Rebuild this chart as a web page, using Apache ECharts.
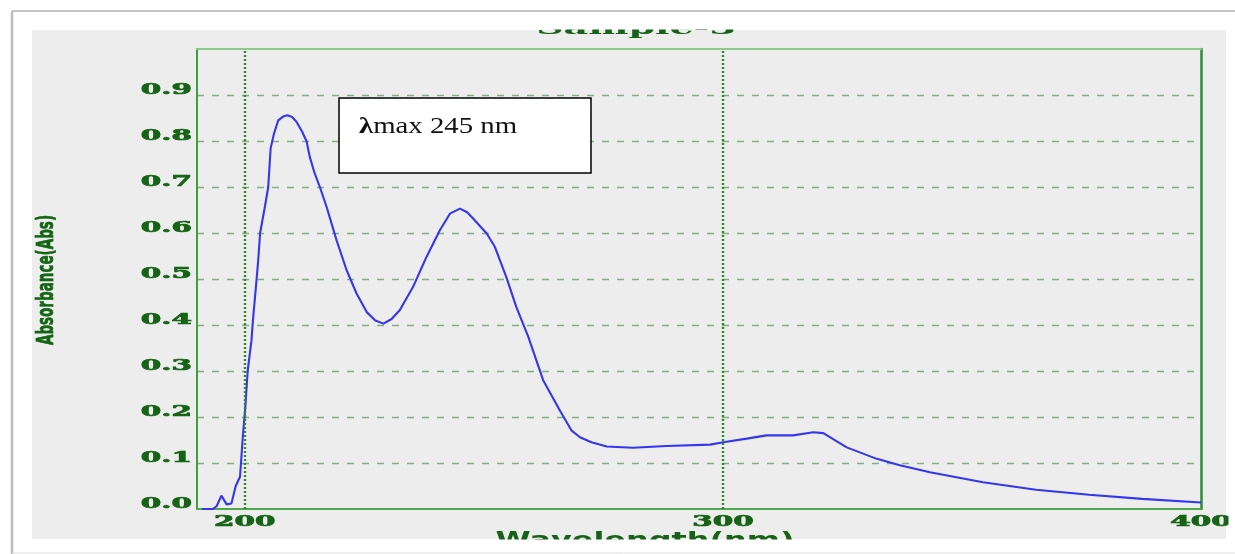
<!DOCTYPE html>
<html>
<head>
<meta charset="utf-8">
<script src="https://cdn.jsdelivr.net/npm/echarts@6/dist/echarts.min.js"></script>
<style>
  html, body { margin: 0; padding: 0; background: #ffffff; }
  #chart { width: 1235px; height: 554px; }
</style>
</head>
<body>
<div id="chart"></div>
<script>
// UV spectrum of Sample-3: wavelength (nm) and absorbance (Abs)
const wavelength = [
  191, 193.3, 194.1, 195.1, 196.2, 197.2, 198.1, 199.0, 199.6, 200.1,
  200.6, 201.4, 201.7, 202.3, 202.8, 203.2, 204.2, 204.9, 205.4, 206.1,
  207.0, 208.0, 208.9, 209.9, 210.8, 212.0, 212.9, 213.6, 214.6, 215.7,
  217.1, 219.2, 221.3, 223.4, 225.5, 227.3, 229.0, 230.7, 232.4, 235.2,
  238.0, 240.8, 242.9, 245.0, 246.5, 247.8, 250.6, 252.3, 254.7, 256.8,
  259.3, 262.4, 265.9, 268.3, 270.1, 272.5, 275.7, 281.2, 288.2, 297.3,
  300.1, 305.0, 309.1, 314.7, 318.9, 321.0, 325.9, 332.2, 337.0, 343.3,
  354.4, 365.5, 376.6, 387.7, 400
];
const absorbance = [
  0.000, 0.000, 0.006, 0.029, 0.010, 0.012, 0.050, 0.070, 0.160, 0.220,
  0.300, 0.367, 0.410, 0.480, 0.540, 0.600, 0.657, 0.700, 0.784, 0.816,
  0.845, 0.853, 0.856, 0.852, 0.842, 0.820, 0.800, 0.765, 0.730, 0.700,
  0.657, 0.584, 0.519, 0.468, 0.428, 0.410, 0.403, 0.413, 0.432, 0.483,
  0.548, 0.606, 0.642, 0.653, 0.645, 0.631, 0.599, 0.570, 0.504, 0.439,
  0.374, 0.280, 0.214, 0.171, 0.156, 0.145, 0.136, 0.133, 0.137, 0.140,
  0.145, 0.153, 0.160, 0.160, 0.167, 0.165, 0.134, 0.109, 0.095, 0.080,
  0.058, 0.042, 0.031, 0.022, 0.014
];
const yTickLabels = ['0.0', '0.1', '0.2', '0.3', '0.4', '0.5', '0.6', '0.7', '0.8', '0.9'];
const xTickLabels = ['200', '300', '400'];
const guideWavelengths = [200, 300];
const titleText = 'Sample-3';
const xAxisName = 'Wavelength(nm)';
const yAxisName = 'Absorbance(Abs)';
const noteSymbol = 'λ';
const noteText = 'max 245 nm';

const LABEL_GREEN = '#156315';
const TICK_FONT = 'bold 14px "DejaVu Serif"';
const chart = echarts.init(document.getElementById('chart'), null, { renderer: 'canvas' });

const hiddenLabel = { show: false };
const noTick = { show: false };

chart.setOption({
  animation: false,
  backgroundColor: '#ffffff',
  grid: { left: 197, top: 49, width: 1004, height: 460, show: false },
  xAxis: [
    {
      type: 'value', min: 190, max: 400, position: 'bottom',
      axisLine: { show: true, onZero: false, lineStyle: { color: '#4ea64e', width: 2 } },
      axisTick: noTick, axisLabel: hiddenLabel, splitLine: { show: false }
    },
    {
      type: 'value', min: 190, max: 400, position: 'top',
      axisLine: { show: true, onZero: false, lineStyle: { color: '#8cc88c', width: 2 } },
      axisTick: noTick, axisLabel: hiddenLabel, splitLine: { show: false }
    }
  ],
  yAxis: [
    {
      type: 'value', min: 0, max: 1, interval: 0.1, position: 'left',
      axisLine: { show: true, onZero: false, lineStyle: { color: '#3f9f3f', width: 2 } },
      axisTick: noTick, axisLabel: hiddenLabel,
      splitLine: {
        show: true, showMinLine: false, showMaxLine: false,
        lineStyle: { type: [7, 8], color: '#82b082', width: 1.4 }
      }
    },
    {
      type: 'value', min: 0, max: 1, position: 'right',
      axisLine: { show: true, onZero: false, lineStyle: { color: '#2e8b2e', width: 2.5 } },
      axisTick: noTick, axisLabel: hiddenLabel, splitLine: { show: false }
    }
  ],
  series: [
    {
      // dotted guide lines at 200 nm and 300 nm
      type: 'line', data: [], z: 1,
      markLine: {
        silent: true, symbol: 'none', label: { show: false },
        lineStyle: { type: [2, 2], color: '#2a8a2a', width: 2.4 },
        data: guideWavelengths.map(v => ({ xAxis: v }))
      }
    },
    {
      type: 'line', z: 3,
      data: wavelength.map((w, i) => [w, absorbance[i]]),
      symbol: 'none', showSymbol: false,
      lineStyle: { color: '#3636ec', width: 2.1 }
    }
  ]
});

// Labels and frame, positioned from the chart's own axes
const toPx = (x, y) => chart.convertToPixel({ seriesIndex: 1 }, [x, y]);
const graphics = [];

// grey panel behind the plot
graphics.push({
  type: 'rect', z: -1, silent: true,
  shape: { x: 32, y: 30, width: 1194, height: 509 },
  style: { fill: '#ededed' }
});

const tickStyle = (t, align) => ({
  text: t, font: TICK_FONT, fill: LABEL_GREEN, stroke: LABEL_GREEN, lineWidth: 0.7,
  align: align, verticalAlign: 'middle'
});

yTickLabels.forEach(t => {
  const p = toPx(190, parseFloat(t));
  graphics.push({ type: 'text', z: 10, x: p[0] - 5, y: p[1] - 4.5, scaleX: 2.1, style: tickStyle(t, 'right') });
});

xTickLabels.forEach(t => {
  const p = toPx(parseFloat(t), 0);
  graphics.push({ type: 'text', z: 10, x: p[0], y: p[1] + 13, scaleX: 2.1, style: tickStyle(t, 'center') });
});

// chart title (partly hidden by the panel edge)
graphics.push({
  type: 'text', z: 10, x: 636, y: 38.5, scaleX: 2.0,
  style: { text: titleText, font: 'bold 19px "DejaVu Serif"', fill: LABEL_GREEN, align: 'center', verticalAlign: 'bottom' }
});

// axis names
graphics.push({
  type: 'text', z: 10, x: 645, y: 530.5, scaleX: 1.45,
  style: { text: xAxisName, font: 'bold 22px "DejaVu Sans"', fill: LABEL_GREEN, align: 'center', verticalAlign: 'top' }
});
graphics.push({
  type: 'text', z: 10, x: 47, y: 280, rotation: Math.PI / 2, scaleY: 1.7,
  style: { text: yAxisName, font: 'bold 13.5px "DejaVu Sans"', fill: LABEL_GREEN, stroke: LABEL_GREEN, lineWidth: 0.4, align: 'center', verticalAlign: 'middle' }
});

// note box
graphics.push({
  type: 'rect', z: 12,
  shape: { x: 339, y: 98, width: 252, height: 75 },
  style: { fill: '#ffffff', stroke: '#000000', lineWidth: 1.5 }
});
graphics.push({
  type: 'text', z: 13, x: 359, y: 127, scaleX: 1.2,
  style: {
    text: '{s|' + noteSymbol + '}' + noteText,
    font: '24px "Liberation Serif"', fill: '#111111', align: 'left', verticalAlign: 'middle',
    rich: { s: { font: 'bold 24px "Liberation Serif"', fill: '#111111' } }
  }
});

// white margins that trim the panel content (upper layer)
const cover = (x, y, w, h) => ({
  type: 'rect', zlevel: 1, z: 1, silent: true,
  shape: { x: x, y: y, width: w, height: h }, style: { fill: '#ffffff' }
});
graphics.push(cover(0, 12, 1235, 17.5));
graphics.push(cover(0, 539.5, 1235, 15));
graphics.push(cover(1228.5, 12, 10, 542));

// outer frame
const frame = (x1, y1, x2, y2, color, w) => ({
  type: 'line', zlevel: 1, z: 2, silent: true,
  shape: { x1: x1, y1: y1, x2: x2, y2: y2 }, style: { stroke: color, lineWidth: w }
});
graphics.push(frame(12, 11, 1235, 11, '#c4c4c4', 2));
graphics.push(frame(12, 11, 12, 554, '#bdbdbd', 2.5));
graphics.push(frame(12, 553, 1235, 553, '#dedede', 1));

chart.setOption({ graphic: graphics });
</script>
</body>
</html>
